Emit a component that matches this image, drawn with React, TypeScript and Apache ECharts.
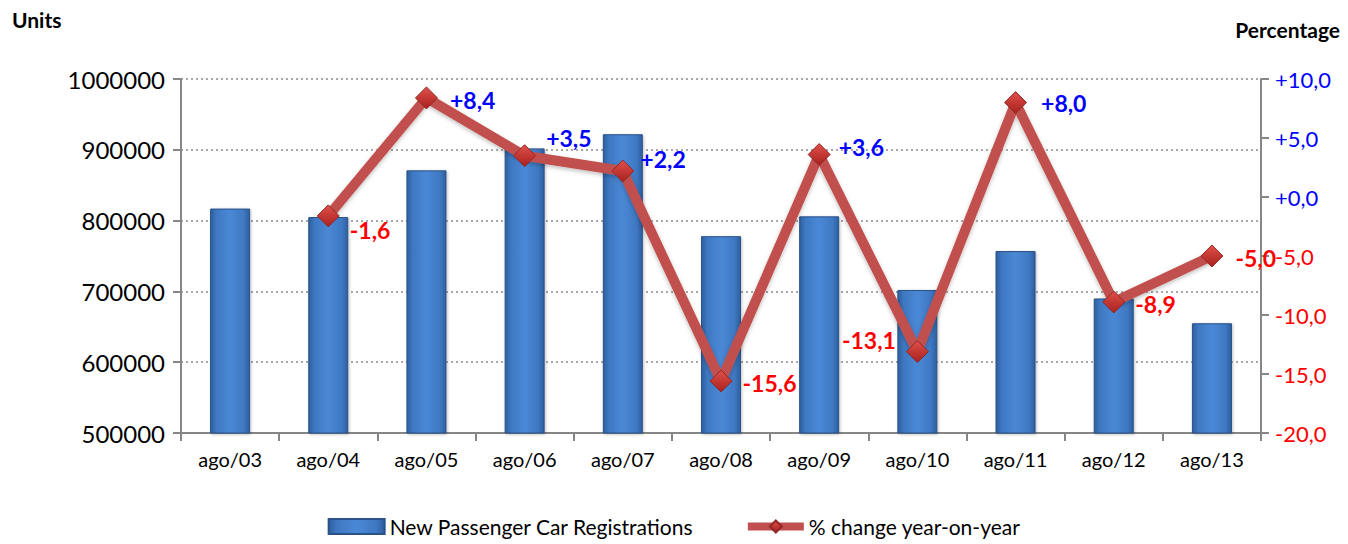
import React, { useEffect, useRef } from "react";
import * as echarts from "echarts";

const categories = ["ago/03", "ago/04", "ago/05", "ago/06", "ago/07", "ago/08", "ago/09", "ago/10", "ago/11", "ago/12", "ago/13"];
const registrations = [817000, 805000, 871000, 902000, 922000, 778000, 806000, 702000, 757000, 690000, 655000];
const pctChange: (number | null)[] = [null, -1.6, 8.4, 3.5, 2.2, -15.6, 3.6, -13.1, 8.0, -8.9, -5.0];
const labelSides = ["right", "right", "right", "right", "right", "right", "right", "left", "right", "right", "right"];
const labelShifts: [number, number][] = [[0, 0], [-2, 14], [0, 2], [-2, -18], [-6, -12], [-2, 2], [-4, -8], [2, -12], [2, 0], [-2, 2], [0, 2]];
const unitTicks = { min: 500000, max: 1000000, interval: 100000 };
const pctTicks = { min: -20, max: 10, interval: 5 };

const fmtPct = (v: number) => (v >= 0 ? "+" : "-") + Math.abs(v).toFixed(1).replace(".", ",");

export default function App() {
  const ref = useRef<HTMLDivElement>(null);
  useEffect(() => {
    document.body.style.margin = "0";
    const chart = echarts.init(ref.current!, null, { renderer: "svg" });
    const font = "Lato, 'Open Sans', sans-serif";
    chart.setOption({
      animation: false,
      textStyle: { fontFamily: font },
      grid: { left: 181, right: 87, top: 79, bottom: 111, containLabel: false },
      legend: {
        bottom: 2,
        left: "center",
        itemGap: 50,
        itemWidth: 56,
        itemHeight: 15,
        textStyle: { fontSize: 21, color: "#000", fontFamily: font },
        data: [
          { name: "New Passenger Car Registrations", icon: "rect" },
          { name: "% change year-on-year", lineStyle: { width: 8, color: "#c0504d" } },
        ],
      },
      graphic: [
        { type: "text", left: 12, top: 9, style: { text: "Units", fontSize: 21, fontWeight: "bold", fill: "#000", fontFamily: font } },
        { type: "text", right: 8, top: 19, style: { text: "Percentage", fontSize: 21, fontWeight: "bold", fill: "#000", fontFamily: font } },
      ],
      xAxis: {
        type: "category",
        data: categories,
        boundaryGap: true,
        axisLine: { show: true, onZero: false, lineStyle: { color: "#868686", width: 2 } },
        axisTick: { show: true, length: 8, lineStyle: { color: "#868686", width: 2 }, alignWithLabel: false },
        axisLabel: { fontSize: 20, color: "#000", margin: 16, fontFamily: font },
      },
      yAxis: [
        {
          type: "value",
          ...unitTicks,
          axisLine: { show: true, lineStyle: { color: "#868686", width: 2 } },
          axisTick: { show: true, length: 8, lineStyle: { color: "#868686", width: 2 } },
          axisLabel: { fontSize: 24, color: "#000", margin: 16, fontFamily: font, formatter: (v: number) => String(v) },
          splitLine: { show: true, lineStyle: { color: "#8c8c8c", type: [2, 3], width: 1.5 } },
        },
        {
          type: "value",
          ...pctTicks,
          position: "right",
          axisLine: { show: true, onZero: false, lineStyle: { color: "#868686", width: 2 } },
          axisTick: { show: true, length: 8, lineStyle: { color: "#868686", width: 2 } },
          splitLine: { show: false },
          axisLabel: {
            fontSize: 22,
            margin: 14,
            fontFamily: font,
            formatter: (v: number) => (v >= 0 ? "{p|" : "{n|") + fmtPct(v) + "}",
            rich: {
              p: { color: "#0000ff", fontSize: 22, fontFamily: font },
              n: { color: "#ff0000", fontSize: 22, fontFamily: font },
            },
          },
        },
      ],
      series: [
        {
          name: "New Passenger Car Registrations",
          type: "bar",
          yAxisIndex: 0,
          barWidth: 40,
          data: registrations,
          itemStyle: {
            borderColor: "#2a5288",
            borderWidth: 1,
            color: new echarts.graphic.LinearGradient(0, 0, 1, 0, [
              { offset: 0, color: "#2d5f9e" },
              { offset: 0.15, color: "#3f78c2" },
              { offset: 0.5, color: "#4a88d6" },
              { offset: 0.85, color: "#3f78c2" },
              { offset: 1, color: "#2d5f9e" },
            ]),
            shadowColor: "rgba(0,0,0,0.25)",
            shadowBlur: 3,
            shadowOffsetX: 1,
            shadowOffsetY: 1,
          },
        },
        {
          name: "% change year-on-year",
          type: "line",
          yAxisIndex: 1,
          data: pctChange.map((v, i) => ({
            value: v,
            label: {
              show: v !== null,
              position: labelSides[i],
              offset: labelShifts[i],
              formatter: () => (v === null ? "" : fmtPct(v)),
              color: v !== null && v >= 0 ? "#0000ff" : "#ff0000",
              fontSize: 23,
              fontWeight: "bold",
              fontFamily: font,
              distance: 12,
            },
          })),
          symbol: "diamond",
          symbolSize: 22,
          connectNulls: false,
          lineStyle: { color: "#c0504d", width: 10, shadowColor: "rgba(0,0,0,0.25)", shadowBlur: 4, shadowOffsetY: 2 },
          itemStyle: {
            color: new echarts.graphic.LinearGradient(0, 0, 0, 1, [
              { offset: 0, color: "#e0504c" },
              { offset: 1, color: "#a8211d" },
            ]),
            borderColor: "#8f2a28",
            borderWidth: 1,
          },
          z: 5,
        },
      ],
    });
    return () => chart.dispose();
  }, []);
  return <div ref={ref} style={{ width: 1348, height: 544 }} />;
}
